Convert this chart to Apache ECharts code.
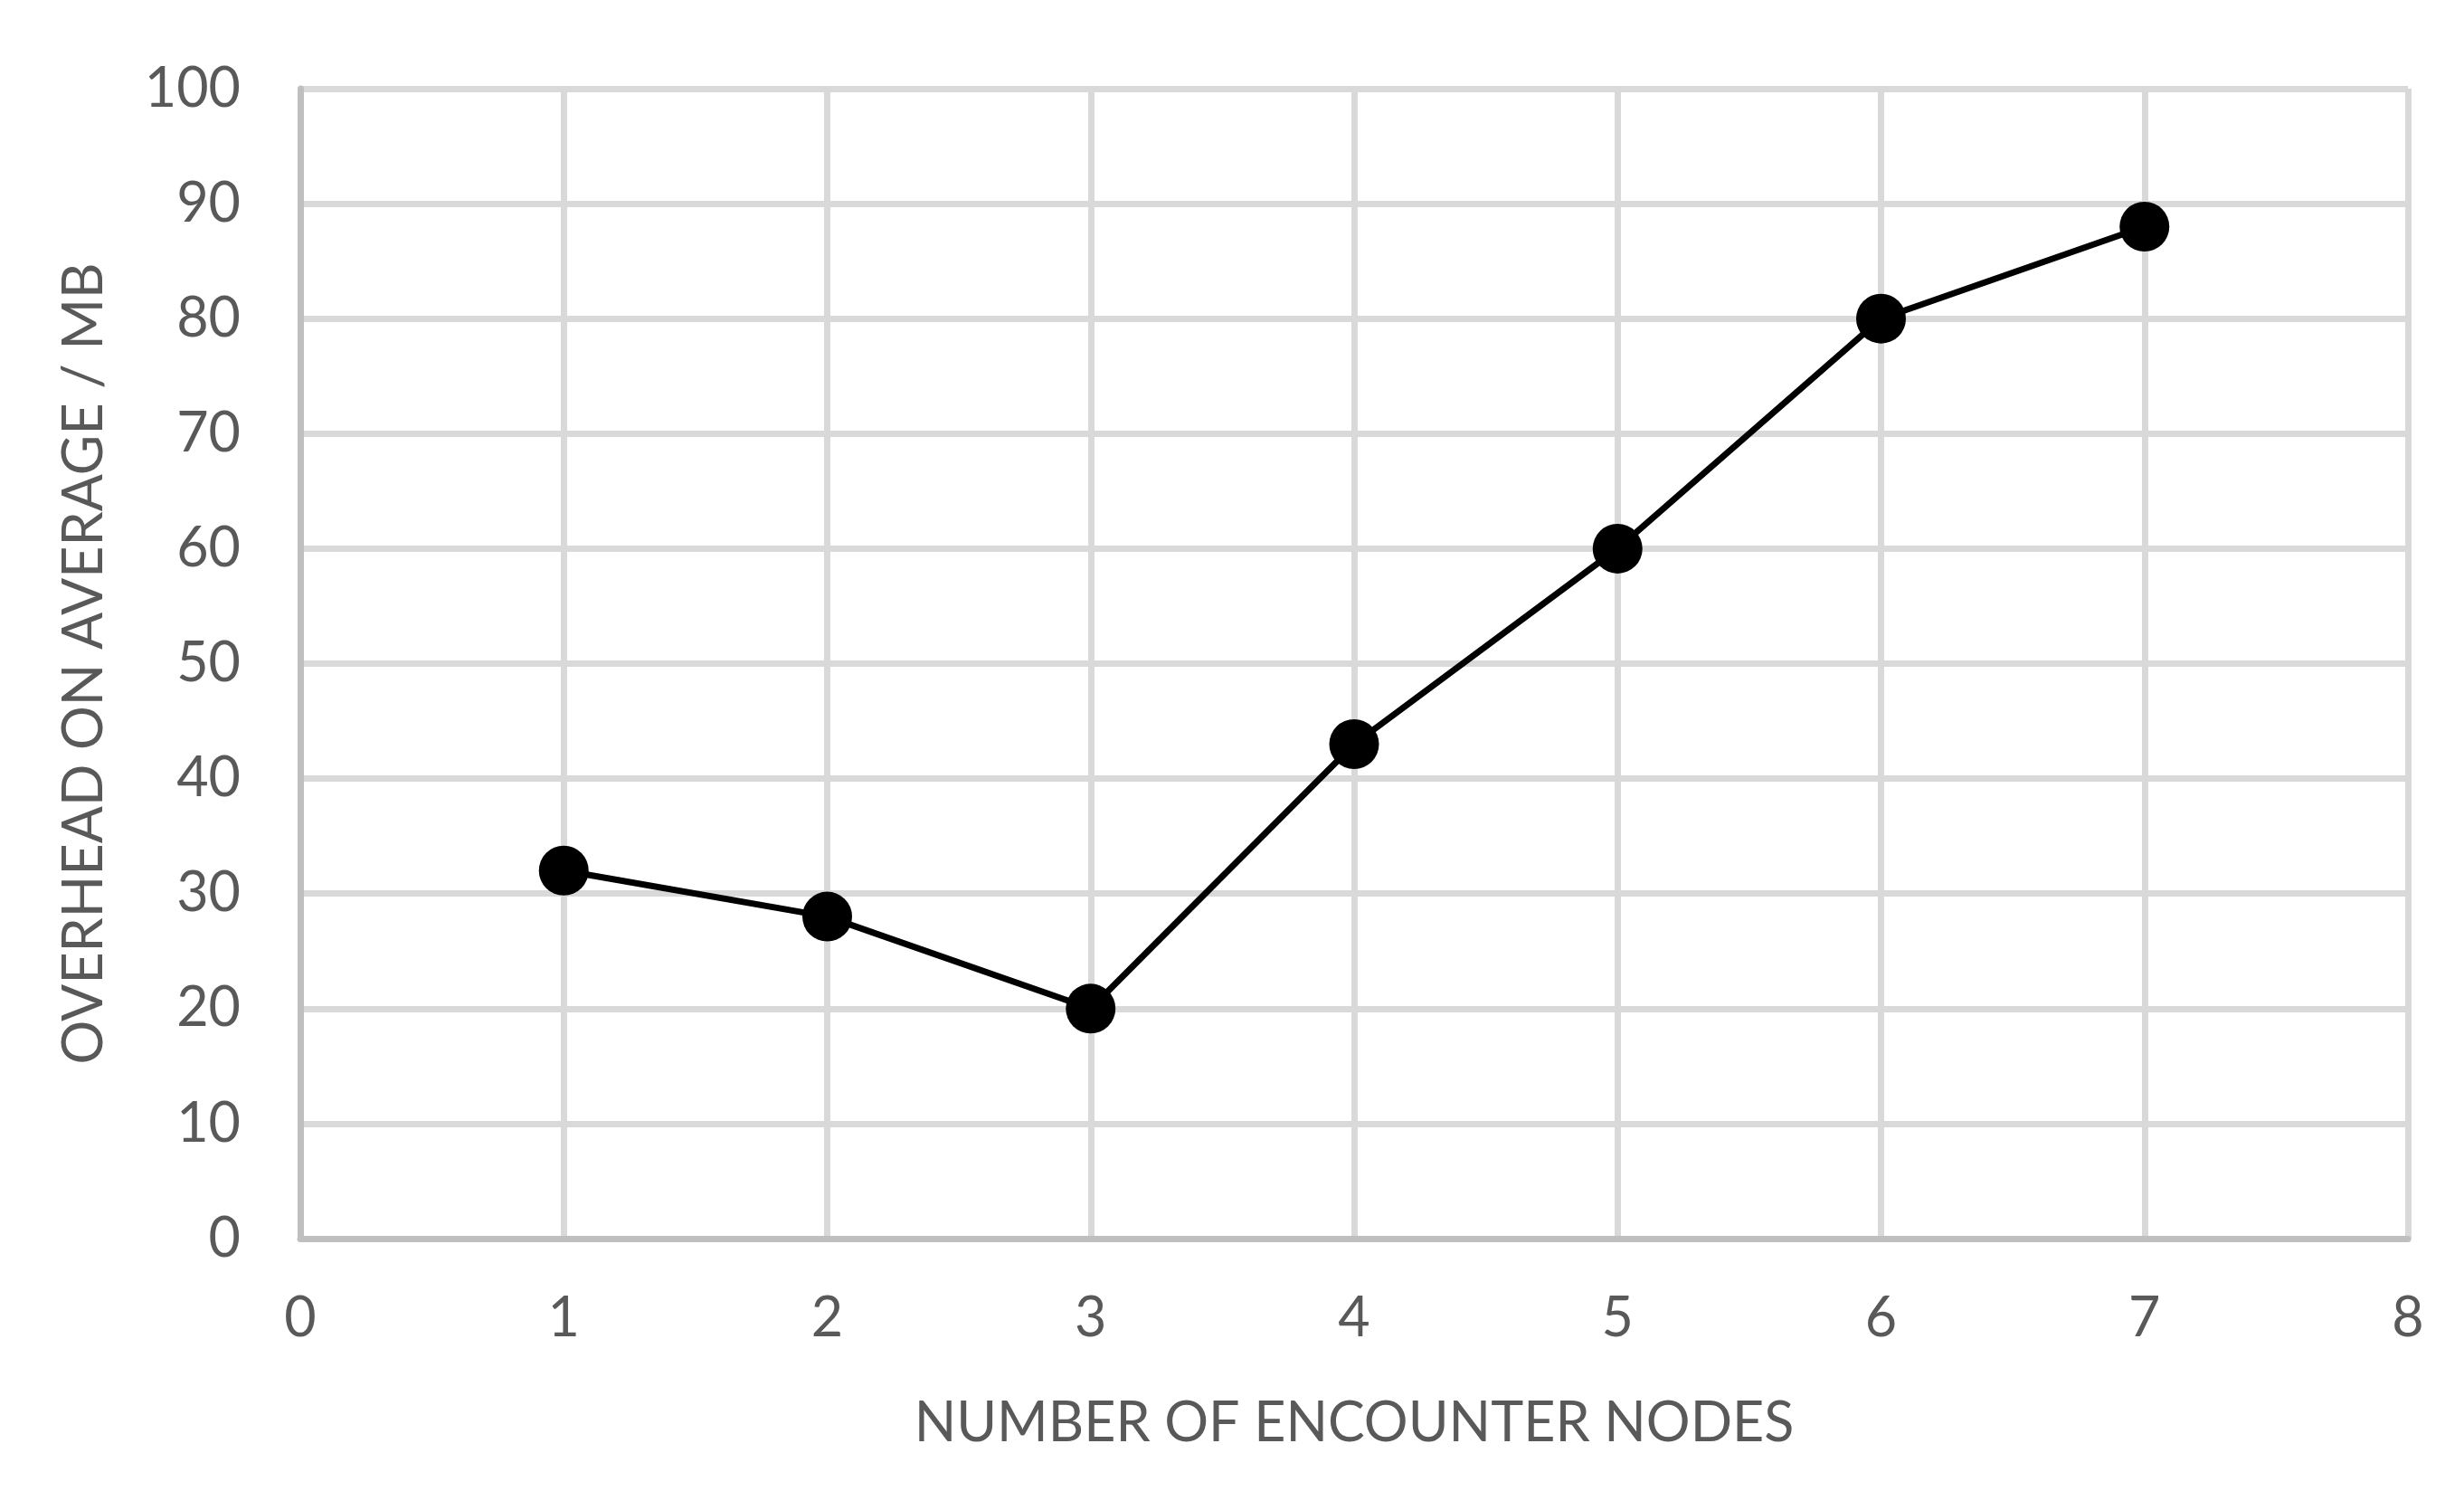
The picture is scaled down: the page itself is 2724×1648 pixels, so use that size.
<!DOCTYPE html>
<html>
<head>
<meta charset="utf-8">
<script src="https://cdn.jsdelivr.net/npm/echarts@6/dist/echarts.min.js"></script>
<style>
html,body{margin:0;padding:0;background:#fff;}
#c{width:2724px;height:1648px;}
</style>
</head>
<body>
<div id="c"></div>
<script>
const xValues = [1, 2, 3, 4, 5, 6, 7];
const overhead = [32, 28, 20, 43, 60, 80, 88];
const xTitle = 'NUMBER OF ENCOUNTER NODES';
const yTitle = 'OVERHEAD ON AVERAGE / MB';

const FONT = 'Lato';
const chart = echarts.init(document.getElementById('c'), null, {renderer: 'canvas'});
chart.setOption({
  backgroundColor: '#ffffff',
  animation: false,
  grid: {left: 332, right: 62, top: 98, bottom: 279, containLabel: false},
  xAxis: {
    type: 'value', min: 0, max: 8, interval: 1,
    name: xTitle, nameLocation: 'middle', nameGap: 174,
    nameTextStyle: {fontFamily: FONT, fontSize: 61, color: '#595959'},
    axisLine: {show: true, lineStyle: {color: '#bfbfbf', width: 7}},
    axisTick: {show: false},
    axisLabel: {fontFamily: FONT, fontSize: 61, color: '#595959', margin: 58},
    splitLine: {show: true, lineStyle: {color: '#d9d9d9', width: 7}}
  },
  yAxis: {
    type: 'value', min: 0, max: 100, interval: 10,
    name: yTitle, nameLocation: 'middle', nameGap: 208, nameRotate: 90,
    nameTextStyle: {fontFamily: FONT, fontSize: 61, color: '#595959'},
    axisLine: {show: true, lineStyle: {color: '#bfbfbf', width: 7}},
    axisTick: {show: false},
    axisLabel: {fontFamily: FONT, fontSize: 61, color: '#595959', margin: 66},
    splitLine: {show: true, lineStyle: {color: '#d9d9d9', width: 7}}
  },
  series: [{
    type: 'line',
    data: xValues.map((x, i) => [x, overhead[i]]),
    symbol: 'circle', symbolSize: 55,
    lineStyle: {color: '#000000', width: 7},
    itemStyle: {color: '#000000'},
    z: 3
  }]
});
</script>
</body>
</html>
